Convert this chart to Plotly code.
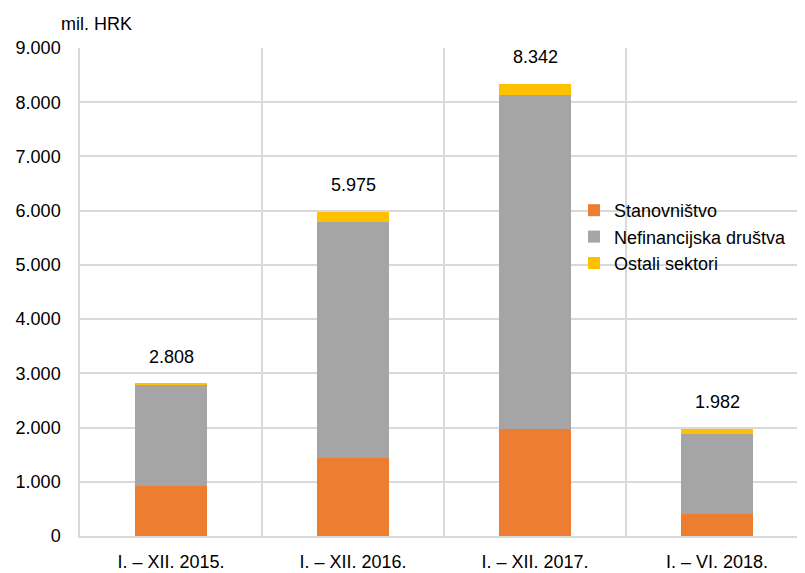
import plotly.graph_objects as go

categories = ["I. – XII. 2015.", "I. – XII. 2016.", "I. – XII. 2017.", "I. – VI. 2018."]
stanovnistvo = [925, 1430, 1970, 400]
nefinancijska = [1860, 4370, 6165, 1477]
ostali = [23, 175, 207, 105]
totals = [2808, 5975, 8342, 1982]
total_labels = ["2.808", "5.975", "8.342", "1.982"]
y_ticks = [0, 1000, 2000, 3000, 4000, 5000, 6000, 7000, 8000, 9000]
y_tick_labels = ["0", "1.000", "2.000", "3.000", "4.000", "5.000", "6.000", "7.000", "8.000", "9.000"]

FONT = "Liberation Sans, Arial, sans-serif"

# page body has an 8px margin: figure is sized/offset to compensate
W, H = 797, 565
L, R, T, B = 72, 0, 40, 37
PW, PH = W - L - R, H - T - B

fig = go.Figure()
fig.add_trace(go.Bar(x=categories, y=stanovnistvo, name="Stanovništvo",
                     marker=dict(color="#ED7D31", line=dict(width=0))))
fig.add_trace(go.Bar(x=categories, y=nefinancijska, name="Nefinancijska društva",
                     marker=dict(color="#A5A5A5", line=dict(width=0))))
fig.add_trace(go.Bar(x=categories, y=ostali, name="Ostali sektori",
                     marker=dict(color="#FFC000", line=dict(width=0))))

annotations = [dict(x=c, y=t, text=s, xref="x", yref="y", showarrow=False,
                    yanchor="bottom", yshift=15,
                    font=dict(size=18, family=FONT, color="#000"))
               for c, t, s in zip(categories, totals, total_labels)]
annotations.append(dict(text="mil. HRK", xref="paper", yref="paper",
                        x=(96 - 8 - L) / PW, y=(H - B - (24 - 8)) / PH,
                        xanchor="center", yanchor="middle", showarrow=False,
                        font=dict(size=18, family=FONT, color="#000")))

fig.update_layout(
    width=W, height=H,
    margin=dict(l=L, r=R, t=T, b=B),
    barmode="stack", bargap=0.6,
    plot_bgcolor="white", paper_bgcolor="white",
    font=dict(family=FONT, size=18, color="#000"),
    legend=dict(x=(574 - 8 - L) / PW, y=(H - B - (192 - 8)) / PH,
                xanchor="left", yanchor="top",
                traceorder="normal", font=dict(size=18, family=FONT),
                itemwidth=30, tracegroupgap=0, bgcolor="rgba(0,0,0,0)"),
    annotations=annotations,
)
fig.update_xaxes(range=[-0.5, 3.483], tickson="boundaries", showgrid=True,
                 gridcolor="#D9D9D9", gridwidth=1.5, showline=True,
                 linecolor="#D9D9D9", linewidth=1.5, ticks="", ticklabelstandoff=9,
                 tickfont=dict(size=18, family=FONT, color="#000"))
fig.update_yaxes(range=[0, 9000], tickvals=y_ticks, ticktext=y_tick_labels,
                 showgrid=True, gridcolor="#D9D9D9", gridwidth=1.5,
                 showline=True, linecolor="#D9D9D9", linewidth=1.5,
                 ticks="", ticklabelstandoff=14, zeroline=False,
                 tickfont=dict(size=18, family=FONT, color="#000"))

fig.write_html("out.html")
